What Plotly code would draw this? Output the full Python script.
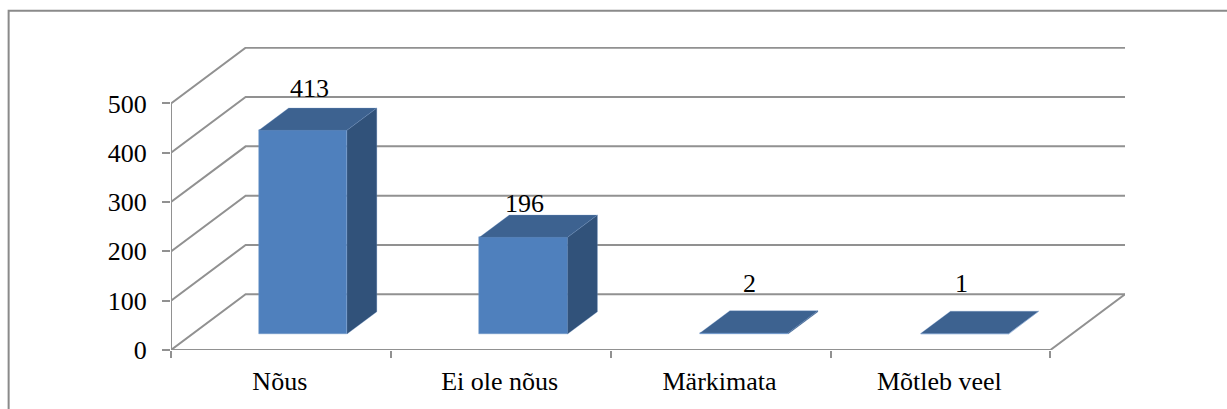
import plotly.graph_objects as go

categories = ["Nõus", "Ei ole nõus", "Märkimata", "Mõtleb veel"]
values = [413, 196, 2, 1]
y_ticks = [0, 100, 200, 300, 400, 500]

# oblique projection: one unit of depth, expressed in axis units
DEPTH_X = 0.3395
DEPTH_Y = 113.0
BAR_WIDTH = 0.401
BAR_STEP = 1.0034
BAR_START = 0.6
BAR_FRONT = 0.287
BAR_DEPTH = 0.40

GRID = "#919191"
FRONT = "#4f80bd"
TOP = "#3d6290"
SIDE = "#31527a"
EDGE = "#6f96c8"
FONT = "Liberation Serif"
FS = 26

label_shift = [(7, 42), (1.5, 34), (5.5, 50), (-3, 50.5)]

fig = go.Figure()


def line(xs, ys, width=2):
    fig.add_trace(go.Scatter(x=xs, y=ys, mode="lines", showlegend=False, hoverinfo="skip",
                             cliponaxis=False, line=dict(color=GRID, width=width)))


n = len(categories)
top_x = n + DEPTH_X
for t in y_ticks:
    line([0, DEPTH_X, top_x], [t, t + DEPTH_Y, t + DEPTH_Y])
line([0, 0], [0, max(y_ticks)])
line([0, n, top_x], [0, 0, DEPTH_Y])

centers = [BAR_START + i * BAR_STEP for i in range(n)]
base = BAR_FRONT * DEPTH_Y
ddx = BAR_DEPTH * DEPTH_X
ddy = BAR_DEPTH * DEPTH_Y

fig.add_trace(go.Bar(x=centers, y=values, base=base, width=BAR_WIDTH, showlegend=False,
                     xaxis="x2", yaxis="y2",
                     marker=dict(color=FRONT, line=dict(color=EDGE, width=0.5)),
                     hovertext=categories, hoverinfo="text+y"))

for c, v in zip(centers, values):
    l, r = c - BAR_WIDTH / 2, c + BAR_WIDTH / 2
    t = base + v
    fig.add_trace(go.Scatter(x=[l, r, r + ddx, l + ddx, l], y=[t, t, t + ddy, t + ddy, t],
                             mode="lines", fill="toself", fillcolor=TOP, showlegend=False,
                             hoverinfo="skip", cliponaxis=False, xaxis="x2", yaxis="y2",
                             line=dict(color=EDGE, width=0.3)))
    fig.add_trace(go.Scatter(x=[r, r + ddx, r + ddx, r, r], y=[base, base + ddy, t + ddy, t, base],
                             mode="lines", fill="toself", fillcolor=SIDE, showlegend=False,
                             hoverinfo="skip", cliponaxis=False, xaxis="x2", yaxis="y2",
                             line=dict(color=EDGE, width=0.3)))

annotations = [
    dict(x=c, y=base + v, xref="x", yref="y", text=str(v), showarrow=False,
         xshift=s[0], yshift=s[1], xanchor="center", yanchor="middle",
         font=dict(family=FONT, size=FS, color="#000000"))
    for c, v, s in zip(centers, values, label_shift)
]

y_range = [0, 614.5]
fig.update_layout(
    width=1227, height=409,
    margin=dict(l=170.5, r=102, t=47.3, b=59, autoexpand=False),
    paper_bgcolor="white", plot_bgcolor="white",
    bargap=0, showlegend=False,
    annotations=annotations,
    shapes=[dict(type="path", xref="paper", yref="paper",
                 path="M -0.1702 -0.2 L -0.1702 1.1196 L 1.2 1.1196",
                 line=dict(color="#8a8a8a", width=2))],
    xaxis=dict(range=[0, top_x], tickmode="array",
               tickvals=[i + 0.495 for i in range(n)], ticktext=categories,
               ticks="", showgrid=False, zeroline=False, showline=False,
               tickfont=dict(family=FONT, size=FS, color="#000000"),
               ticklabelstandoff=13,
               minor=dict(tickmode="array", tickvals=list(range(n + 1)), ticks="outside",
                          ticklen=7, tickwidth=2, tickcolor=GRID, showgrid=False)),
    yaxis=dict(range=y_range, tickmode="array", tickvals=y_ticks,
               ticks="outside", ticklen=8, tickwidth=2, tickcolor=GRID,
               showgrid=False, zeroline=False, showline=False,
               ticklabelstandoff=10,
               tickfont=dict(family=FONT, size=FS, color="#000000")),
    xaxis2=dict(range=[0, top_x], overlaying="x", visible=False),
    yaxis2=dict(range=y_range, overlaying="y", visible=False),
)

fig.write_html("out.html", post_script="document.body.style.margin='0';",
               config={"displayModeBar": False})
